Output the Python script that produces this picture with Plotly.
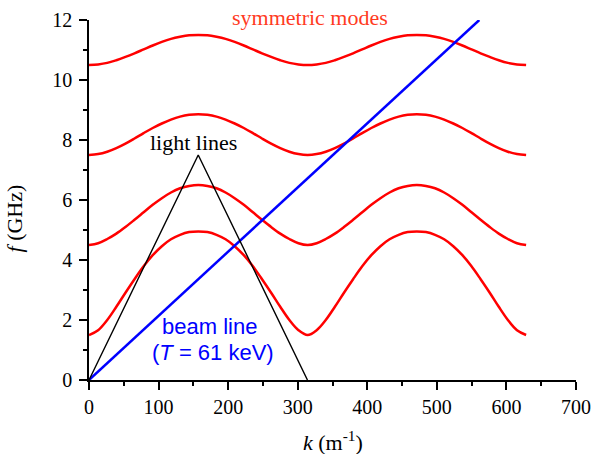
import plotly.graph_objects as go

# wavenumber samples (m^-1)
k_modes = [0, 13.1, 26.2, 39.3, 52.4, 65.4, 78.5, 91.6, 104.7, 117.8, 130.9, 144.0,
           157.1, 170.2, 183.3, 196.3, 209.4, 222.5, 235.6, 248.7, 261.8, 274.9, 288.0,
           301.1, 314.2, 327.2, 340.3, 353.4, 366.5, 379.6, 392.7, 405.8, 418.9, 432.0,
           445.1, 458.1, 471.2, 484.3, 497.4, 510.5, 523.6, 536.7, 549.8, 562.9, 576.0,
           589.0, 602.1, 615.2, 628.3]

# symmetric mode frequencies (GHz)
f_mode1 = [1.50, 1.66, 2.00, 2.44, 2.91, 3.36, 3.79, 4.16, 4.46, 4.69, 4.84, 4.93, 4.95,
           4.93, 4.84, 4.69, 4.46, 4.16, 3.79, 3.36, 2.91, 2.44, 2.00, 1.66, 1.50,
           1.66, 2.00, 2.44, 2.91, 3.36, 3.79, 4.16, 4.46, 4.69, 4.84, 4.93, 4.95,
           4.93, 4.84, 4.69, 4.46, 4.16, 3.79, 3.36, 2.91, 2.44, 2.00, 1.66, 1.50]
f_mode2 = [4.50, 4.56, 4.70, 4.88, 5.10, 5.34, 5.59, 5.84, 6.06, 6.25, 6.39, 6.47, 6.50,
           6.47, 6.39, 6.25, 6.06, 5.84, 5.59, 5.34, 5.10, 4.88, 4.70, 4.56, 4.50,
           4.56, 4.70, 4.88, 5.10, 5.34, 5.59, 5.84, 6.06, 6.25, 6.39, 6.47, 6.50,
           6.47, 6.39, 6.25, 6.06, 5.84, 5.59, 5.34, 5.10, 4.88, 4.70, 4.56, 4.50]
f_mode3 = [7.50, 7.53, 7.61, 7.73, 7.88, 8.05, 8.23, 8.40, 8.55, 8.68, 8.78, 8.84, 8.86,
           8.84, 8.78, 8.68, 8.55, 8.40, 8.23, 8.05, 7.88, 7.73, 7.61, 7.53, 7.50,
           7.53, 7.61, 7.73, 7.88, 8.05, 8.23, 8.40, 8.55, 8.68, 8.78, 8.84, 8.86,
           8.84, 8.78, 8.68, 8.55, 8.40, 8.23, 8.05, 7.88, 7.73, 7.61, 7.53, 7.50]
f_mode4 = [10.50, 10.52, 10.57, 10.66, 10.77, 10.89, 11.02, 11.15, 11.27, 11.37, 11.44, 11.49, 11.50,
           11.49, 11.44, 11.37, 11.27, 11.15, 11.02, 10.89, 10.77, 10.66, 10.57, 10.52, 10.50,
           10.52, 10.57, 10.66, 10.77, 10.89, 11.02, 11.15, 11.27, 11.37, 11.44, 11.49, 11.50,
           11.49, 11.44, 11.37, 11.27, 11.15, 11.02, 10.89, 10.77, 10.66, 10.57, 10.52, 10.50]

# light lines
k_light = [0, 157, 314]
f_light = [0, 7.5, 0]

# beam line (T = 61 keV)
k_beam = [0, 561]
f_beam = [0, 12]

x_ticks = [0, 100, 200, 300, 400, 500, 600, 700]
y_ticks = [0, 2, 4, 6, 8, 10, 12]

SERIF = "Liberation Serif"
SANS = "Liberation Sans"

fig = go.Figure()
for f in [f_mode1, f_mode2, f_mode3, f_mode4]:
    fig.add_trace(go.Scatter(x=k_modes, y=f, mode="lines",
                             line=dict(color="#ff0000", width=2.5, shape="spline", smoothing=1.0),
                             showlegend=False, hoverinfo="skip"))
fig.add_trace(go.Scatter(x=k_beam, y=f_beam, mode="lines",
                         line=dict(color="#0000ff", width=2.5), showlegend=False))
fig.add_trace(go.Scatter(x=k_light, y=f_light, mode="lines",
                         line=dict(color="black", width=1.4), showlegend=False))

axis_common = dict(
    showgrid=False, zeroline=False, showline=True, linecolor="black", linewidth=1.5,
    ticks="outside", ticklen=8, tickwidth=1.5, tickcolor="black", automargin=False,
    tickfont=dict(family=SERIF, size=20, color="black"),
)
fig.update_xaxes(range=[0, 700], tickvals=x_ticks, ticktext=[str(v) for v in x_ticks], **axis_common,
                 minor=dict(ticks="outside", ticklen=4, tickwidth=1.5, tickcolor="black", dtick=50, tick0=0))
fig.update_yaxes(range=[0, 12], tickvals=y_ticks, ticktext=[str(v) for v in y_ticks], **axis_common,
                 ticklabelstandoff=3,
                 minor=dict(ticks="outside", ticklen=4, tickwidth=1.5, tickcolor="black", dtick=1, tick0=0))

annotations = [
    dict(text="symmetric modes", x=317, y=1.006, xref="x", yref="paper",
         font=dict(family=SERIF, size=22, color="#ff3b1f")),
    dict(text="light lines", x=150, y=7.93, xref="x", yref="y",
         font=dict(family=SERIF, size=22, color="black")),
    dict(text="beam line", x=173.5, y=1.77, xref="x", yref="y",
         font=dict(family=SANS, size=22, color="#0000ff")),
    dict(text="(<i>T</i> = 61 keV)", x=177.6, y=0.93, xref="x", yref="y",
         font=dict(family=SANS, size=22, color="#0000ff")),
    dict(text="<i>k</i> (m<sup>-1</sup>)", x=0.5, y=-0.169, xref="paper", yref="paper",
         font=dict(family=SERIF, size=22, color="black")),
    dict(text="<i>f</i> (GHz)", x=-0.153, y=0.45, xref="paper", yref="paper", textangle=-90,
         font=dict(family=SERIF, size=22, color="black")),
]
for a in annotations:
    a.update(showarrow=False, xanchor="center", yanchor="middle")
fig.update_layout(
    width=593, height=454,
    margin=dict(l=89, r=17, t=20, b=74),
    paper_bgcolor="white", plot_bgcolor="white",
    font=dict(family=SERIF, size=20, color="black"),
    annotations=annotations,
)
fig.write_html("out.html", config={"displayModeBar": False},
               post_script="document.body.style.margin='0px';document.body.style.overflow='hidden';")
